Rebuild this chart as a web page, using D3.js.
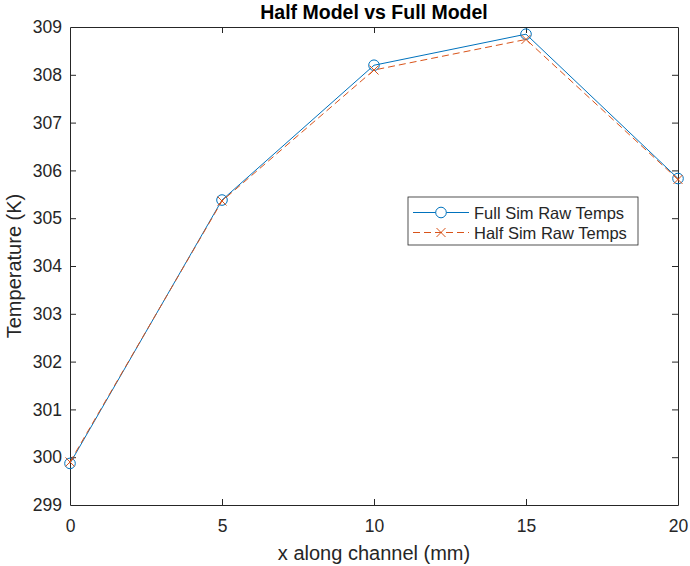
<!DOCTYPE html>
<html>
<head>
<meta charset="utf-8">
<script src="https://cdn.jsdelivr.net/npm/d3@7"></script>
<style>
  html, body { margin: 0; padding: 0; background: #fff; }
  svg { display: block; font-family: "Liberation Sans", Arial, Helvetica, sans-serif; }
</style>
</head>
<body>
<svg id="chart" width="690" height="566"></svg>
<script>
// Channel positions (mm) and simulated temperatures (K)
const positions = [0, 5, 10, 15, 20];
const fullTemps = [299.87, 305.38, 308.20, 308.85, 305.83];
const halfTemps = [299.90, 305.36, 308.10, 308.74, 305.81];
const xTicks = [0, 5, 10, 15, 20];
const yTicks = [299, 300, 301, 302, 303, 304, 305, 306, 307, 308, 309];
const seriesNames = ["Full Sim Raw Temps", "Half Sim Raw Temps"];

const W = 690, H = 566;
const m = { left: 70, right: 12, top: 27, bottom: 61 };
const axisColor = "#262626";
const blue = "#0072BD", orange = "#D95319";

const svg = d3.select("#chart");
const x = d3.scaleLinear().domain([0, 20]).range([m.left, W - m.right]);
const y = d3.scaleLinear().domain([299, 309]).range([H - m.bottom, m.top]);

const tickLen = 6;
const fmt = d3.format("d");
const tickFont = 17.5;

// Bottom axis with labels, top axis as box edge with inward ticks
const axBottom = svg.append("g").attr("transform", `translate(0,${H - m.bottom})`)
  .call(d3.axisBottom(x).tickValues(xTicks).tickFormat(fmt).tickSizeInner(-tickLen).tickSizeOuter(0).tickPadding(15));
const axTop = svg.append("g").attr("transform", `translate(0,${m.top})`)
  .call(d3.axisTop(x).tickValues(xTicks).tickFormat("").tickSizeInner(-tickLen).tickSizeOuter(0));
const axLeft = svg.append("g").attr("transform", `translate(${m.left},0)`)
  .call(d3.axisLeft(y).tickValues(yTicks).tickFormat(fmt).tickSizeInner(-tickLen).tickSizeOuter(0).tickPadding(8));
const axRight = svg.append("g").attr("transform", `translate(${W - m.right},0)`)
  .call(d3.axisRight(y).tickValues(yTicks).tickFormat("").tickSizeInner(-tickLen).tickSizeOuter(0));

[axBottom, axTop, axLeft, axRight].forEach(g => {
  g.select(".domain").attr("stroke", axisColor).attr("stroke-width", 1);
  g.selectAll(".tick line").attr("stroke", axisColor).attr("stroke-width", 1);
  g.selectAll(".tick text").attr("fill", axisColor).attr("font-size", tickFont)
    .attr("font-family", "Liberation Sans, Arial, sans-serif");
});
// Hide the end ticks that sit on the box corners
axBottom.selectAll(".tick line").filter(d => d === 0 || d === 20).remove();
axTop.selectAll(".tick line").filter(d => d === 0 || d === 20).remove();
axLeft.selectAll(".tick line").filter(d => d === 299 || d === 309).remove();
axRight.selectAll(".tick line").filter(d => d === 299 || d === 309).remove();

const plot = svg.append("g");

const line = d3.line().x((d, i) => x(positions[i])).y(d => y(d));

// Full model: solid line with circle markers
plot.append("path").datum(fullTemps)
  .attr("d", line).attr("fill", "none").attr("stroke", blue).attr("stroke-width", 1);
plot.selectAll("circle.full").data(fullTemps).join("circle")
  .attr("class", "full")
  .attr("cx", (d, i) => x(positions[i])).attr("cy", d => y(d)).attr("r", 5.3)
  .attr("fill", "none").attr("stroke", blue).attr("stroke-width", 1);

// Half model: dashed line with x markers
plot.append("path").datum(halfTemps)
  .attr("d", line).attr("fill", "none").attr("stroke", orange).attr("stroke-width", 1)
  .attr("stroke-dasharray", "7,4");
const cross = 4.5;
plot.selectAll("path.half").data(halfTemps).join("path")
  .attr("class", "half")
  .attr("d", (d, i) => {
    const cx = x(positions[i]), cy = y(d);
    return `M${cx - cross},${cy - cross}L${cx + cross},${cy + cross}M${cx - cross},${cy + cross}L${cx + cross},${cy - cross}`;
  })
  .attr("fill", "none").attr("stroke", orange).attr("stroke-width", 1);

// Title and axis labels
svg.append("text").attr("x", (m.left + W - m.right) / 2).attr("y", 19)
  .attr("text-anchor", "middle").attr("font-weight", "bold").attr("font-size", 19.5)
  .attr("fill", "#000").text("Half Model vs Full Model");
svg.append("text").attr("x", (m.left + W - m.right) / 2).attr("y", 560)
  .attr("text-anchor", "middle").attr("font-size", 20).attr("fill", axisColor)
  .text("x along channel (mm)");
svg.append("text")
  .attr("transform", `translate(21,${(m.top + H - m.bottom) / 2}) rotate(-90)`)
  .attr("text-anchor", "middle").attr("font-size", 20).attr("fill", axisColor)
  .text("Temperature (K)");

// Legend
const lg = svg.append("g").attr("transform", "translate(408,197)");
lg.append("rect").attr("width", 230).attr("height", 48)
  .attr("fill", "#fff").attr("stroke", axisColor).attr("stroke-width", 0.8);
const rows = [
  { name: seriesNames[0], color: blue, dash: null, marker: "circle" },
  { name: seriesNames[1], color: orange, dash: "7,4", marker: "x" }
];
rows.forEach((r, i) => {
  const cy = 15.5 + i * 20;
  lg.append("line").attr("x1", 5).attr("x2", 61).attr("y1", cy).attr("y2", cy)
    .attr("stroke", r.color).attr("stroke-width", 1).attr("stroke-dasharray", r.dash);
  if (r.marker === "circle") {
    lg.append("circle").attr("cx", 33).attr("cy", cy).attr("r", 5.3)
      .attr("fill", "#fff").attr("stroke", r.color);
  } else {
    lg.append("path")
      .attr("d", `M${33 - cross},${cy - cross}L${33 + cross},${cy + cross}M${33 - cross},${cy + cross}L${33 + cross},${cy - cross}`)
      .attr("stroke", r.color).attr("fill", "none");
  }
  lg.append("text").attr("x", 66).attr("y", cy + 6).attr("font-size", 16.5)
    .attr("fill", axisColor).text(r.name);
});
</script>
</body>
</html>
